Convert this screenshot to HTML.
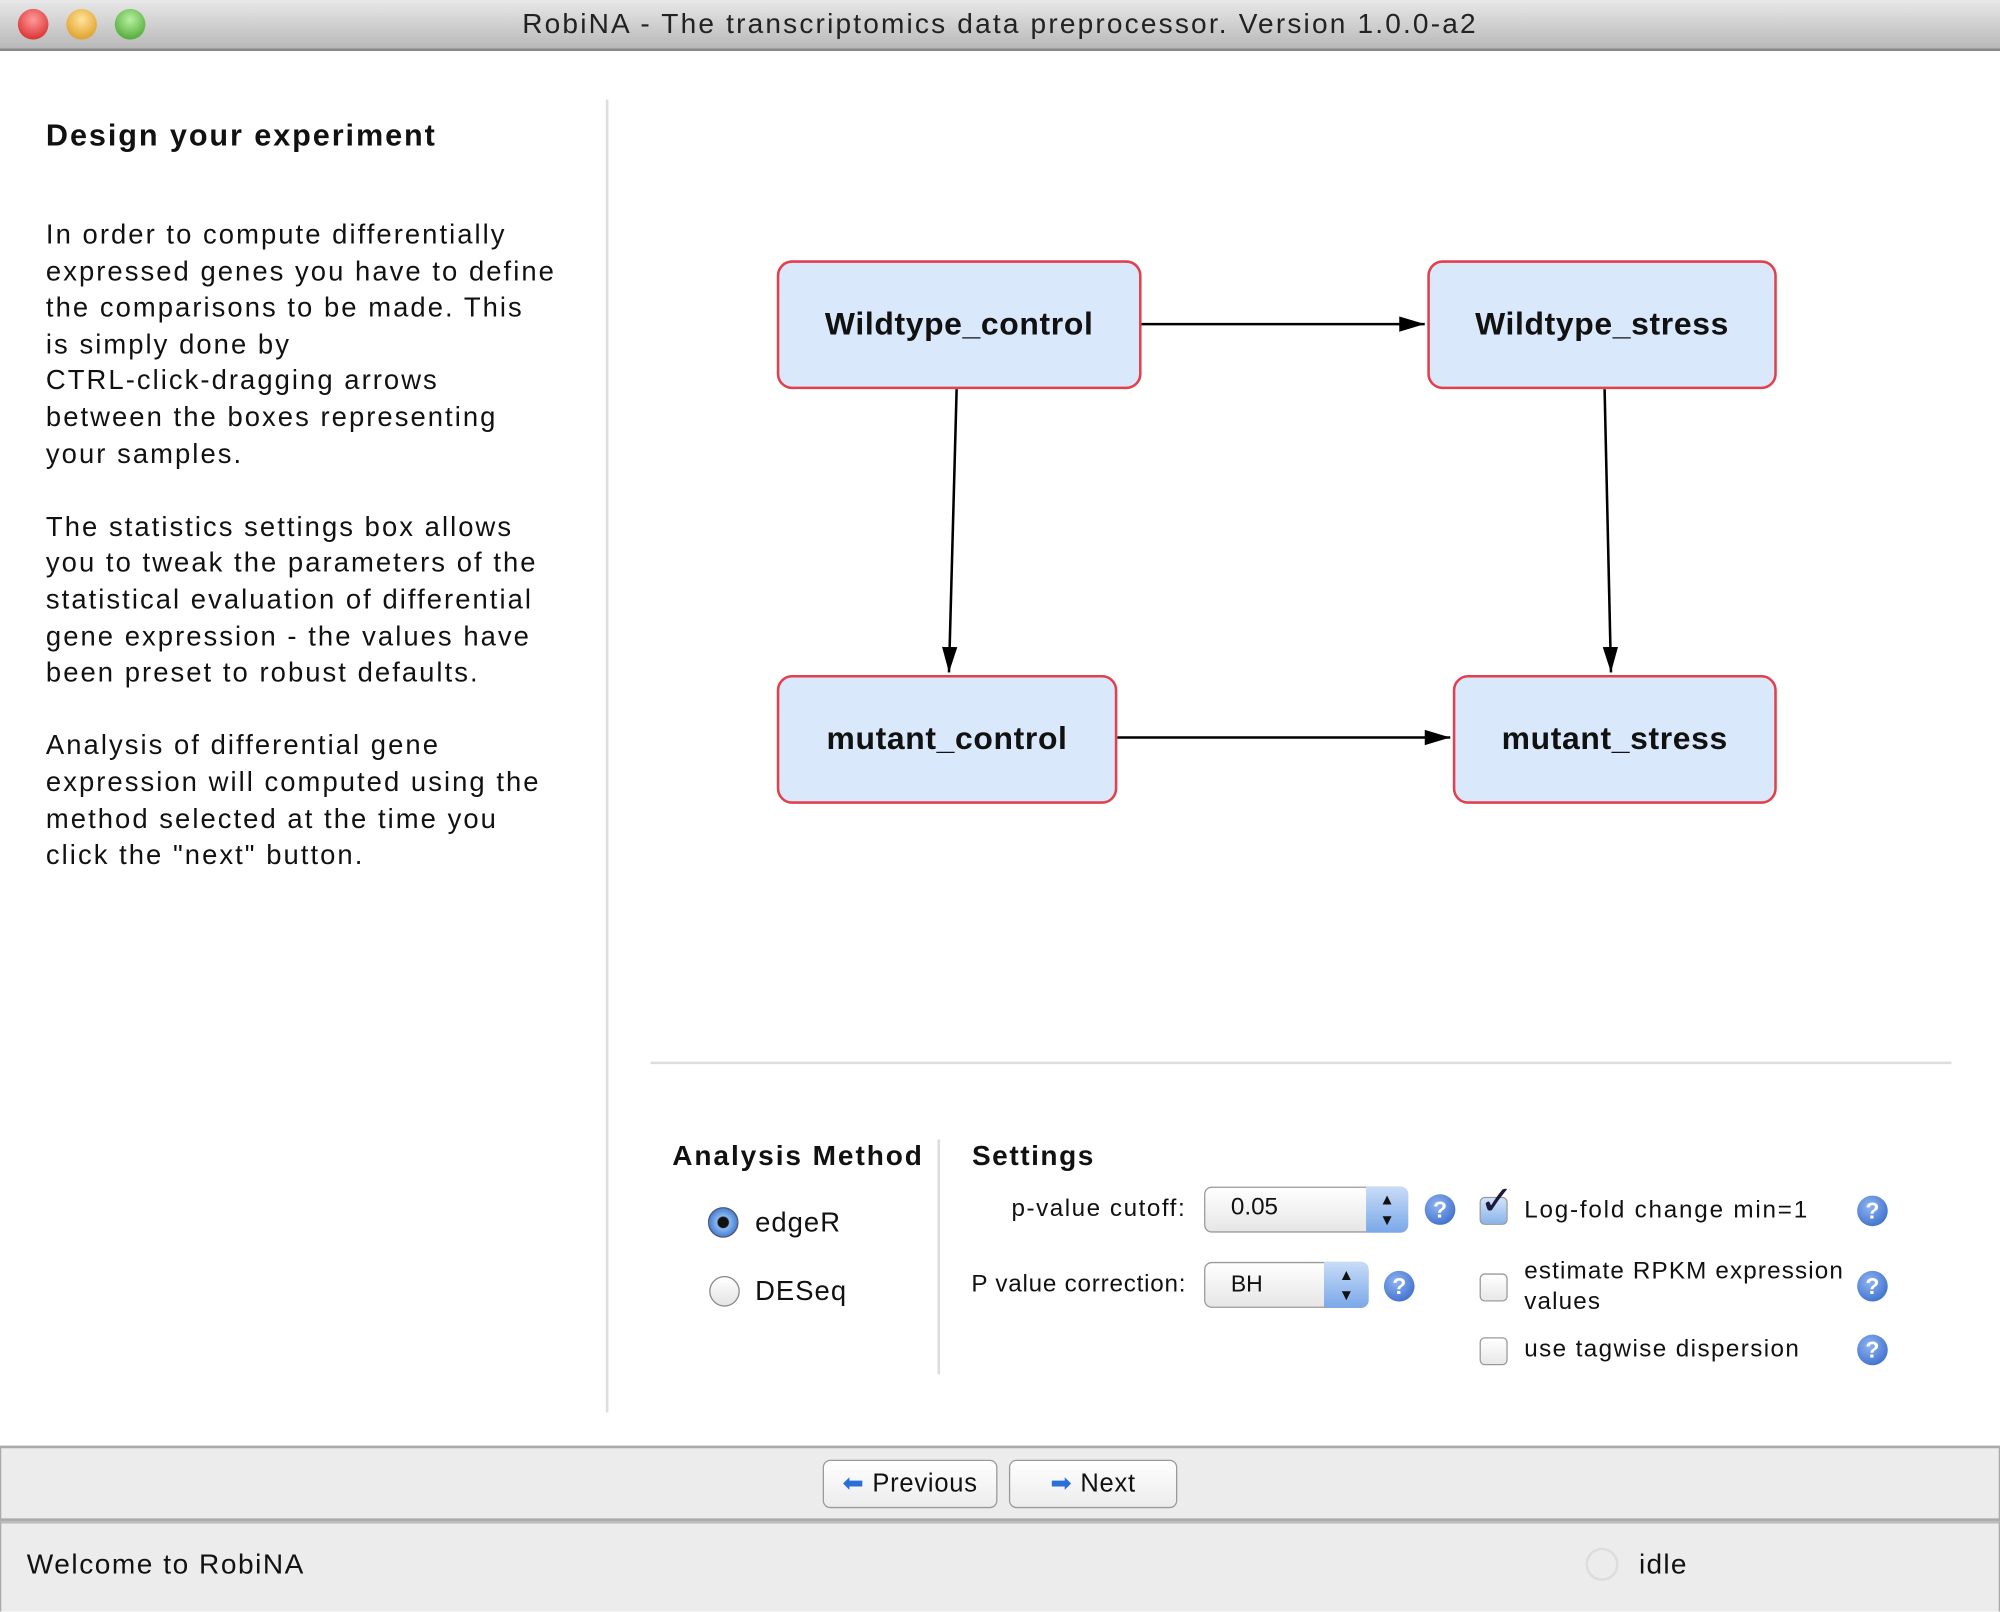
<!DOCTYPE html>
<html><head><meta charset="utf-8"><style>
html,body{margin:0;padding:0;width:2000px;height:1609px;overflow:hidden;background:#fff}
#s{position:absolute;left:0;top:0;width:1568px;height:1261px;transform:scale(1.27551,1.27597);transform-origin:0 0;font-family:"Liberation Sans","DejaVu Sans",sans-serif;color:#111}
.a{position:absolute;white-space:nowrap}
.t{font-size:21.5px;letter-spacing:1.6px}
.box{position:absolute;background:#d9e8fb;border:2px solid #e2404c;border-radius:12px;box-sizing:border-box;display:flex;align-items:center;justify-content:center;font-weight:bold;font-size:25px;letter-spacing:0.5px}
.q{position:absolute;width:24px;height:24px;border-radius:50%;background:radial-gradient(circle at 40% 35%,#8fb4f0,#2a5fc4);color:#fff;font-weight:bold;font-size:18px;text-align:center;line-height:24px}
.cb{position:absolute;width:22px;height:22px;border:1px solid #999;border-radius:4px;background:linear-gradient(#fff,#e8e8e8);box-sizing:border-box}
.btn{position:absolute;height:38px;border:1px solid #999;border-radius:6px;background:linear-gradient(#fff,#ececec);box-sizing:border-box;font-size:20px;line-height:36px;text-align:center;letter-spacing:0.6px}
.o{font-size:19px;letter-spacing:1.4px}
</style></head><body><div id="s">
<div class="a" style="left:0;top:0;width:1568px;height:38px;background:linear-gradient(#e8e8e8,#b8b8b8);border-bottom:2px solid #888"></div>
<div class="a" style="left:14px;top:7px;width:24px;height:24px;border-radius:50%;background:radial-gradient(circle at 50% 35%,#ff9a9a,#d01818)"></div>
<div class="a" style="left:52px;top:7px;width:24px;height:24px;border-radius:50%;background:radial-gradient(circle at 50% 35%,#ffe39a,#d89010)"></div>
<div class="a" style="left:90px;top:7px;width:24px;height:24px;border-radius:50%;background:radial-gradient(circle at 50% 35%,#b8f0a0,#3a9a20)"></div>
<div class="a" style="left:0;width:1568px;top:6px;text-align:center;font-size:22px;letter-spacing:1.7px;color:#222">RobiNA - The transcriptomics data preprocessor. Version 1.0.0-a2</div>

<div class="a" style="left:36px;top:93px;font-size:24px;font-weight:bold;letter-spacing:1.5px">Design your experiment</div>
<div class="a t" style="left:36px;top:170px;line-height:28.6px">In order to compute differentially<br>expressed genes you have to define<br>the comparisons to be made. This<br>is simply done by<br>CTRL-click-dragging arrows<br>between the boxes representing<br>your samples.<br><br>The statistics settings box allows<br>you to tweak the parameters of the<br>statistical evaluation of differential<br>gene expression - the values have<br>been preset to robust defaults.<br><br>Analysis of differential gene<br>expression will computed using the<br>method selected at the time you<br>click the "next" button.</div>
<div class="a" style="left:475px;top:78px;width:2px;height:1029px;background:#ddd"></div>

<svg class="a" style="left:0;top:0" width="1568" height="1261">
<defs><marker id="m" markerWidth="20" markerHeight="12" refX="20" refY="6" orient="auto" markerUnits="userSpaceOnUse"><path d="M0,0 L20,6 L0,12z" fill="#000"/></marker></defs>
<g stroke="#000" stroke-width="2" marker-end="url(#m)">
<line x1="895" y1="254" x2="1117" y2="254"/>
<line x1="750" y1="305" x2="744" y2="527"/>
<line x1="1258" y1="305" x2="1263" y2="527"/>
<line x1="876" y1="578" x2="1137" y2="578"/>
</g></svg>
<div class="box" style="left:609px;top:204px;width:286px;height:101px">Wildtype_control</div>
<div class="box" style="left:1119px;top:204px;width:274px;height:101px">Wildtype_stress</div>
<div class="box" style="left:609px;top:529px;width:267px;height:101px">mutant_control</div>
<div class="box" style="left:1139px;top:529px;width:254px;height:101px">mutant_stress</div>

<div class="a" style="left:510px;top:832px;width:1020px;height:2px;background:#ddd"></div>
<div class="a" style="left:527px;top:893px;font-size:22px;font-weight:bold;letter-spacing:1.5px">Analysis Method</div>
<div class="a" style="left:735px;top:893px;width:2px;height:184px;background:#ddd"></div>
<div class="a" style="left:762px;top:893px;font-size:22px;font-weight:bold;letter-spacing:1.2px">Settings</div>
<div class="a" style="left:555px;top:946px;width:24px;height:24px;border-radius:50%;border:1px solid #557;box-sizing:border-box;background:radial-gradient(circle,#111 0 4px,#8ab8f0 5px,#3d78d0 12px)"></div>
<div class="a t" style="left:592px;top:946px;letter-spacing:0.8px">edgeR</div>
<div class="a" style="left:556px;top:1000px;width:24px;height:24px;border-radius:50%;border:1px solid #888;box-sizing:border-box;background:linear-gradient(#fff,#e4e4e4)"></div>
<div class="a t" style="left:592px;top:1000px;letter-spacing:0.8px">DESeq</div>

<div class="a o" style="left:630px;width:300px;text-align:right;top:937px;letter-spacing:1.2px">p-value cutoff:</div>
<div class="a" style="left:944px;top:930px;width:160px;height:36px;border:1px solid #999;border-radius:6px;box-sizing:border-box;background:linear-gradient(#fff,#e6e6e6);font-size:19px;line-height:32px;padding-left:20px">0.05</div>
<div class="a" style="left:1071px;top:930px;width:33px;height:36px;border-radius:0 6px 6px 0;background:linear-gradient(#c8dcf8,#7aa8e8);font-size:12px;line-height:16px;text-align:center;padding-top:2px;box-sizing:border-box">▲<br>▼</div>
<div class="q" style="left:1117px;top:936px">?</div>
<div class="a o" style="left:630px;width:300px;text-align:right;top:996px;letter-spacing:0.6px">P value correction:</div>
<div class="a" style="left:944px;top:989px;width:129px;height:36px;border:1px solid #999;border-radius:6px;box-sizing:border-box;background:linear-gradient(#fff,#e6e6e6);font-size:18px;line-height:32px;padding-left:20px">BH</div>
<div class="a" style="left:1038px;top:989px;width:35px;height:36px;border-radius:0 6px 6px 0;background:linear-gradient(#c8dcf8,#7aa8e8);font-size:12px;line-height:16px;text-align:center;padding-top:2px;box-sizing:border-box">▲<br>▼</div>
<div class="q" style="left:1085px;top:996px">?</div>

<div class="cb" style="left:1160px;top:938px;background:linear-gradient(#d0e2fa,#8ab4ec)"></div>
<div class="a" style="left:1160px;top:922px;font-size:32px;font-weight:bold;color:#1a1a3a">✓</div>
<div class="a o" style="left:1195px;top:938px">Log-fold change min=1</div>
<div class="q" style="left:1456px;top:937px">?</div>
<div class="cb" style="left:1160px;top:998px"></div>
<div class="a o" style="left:1195px;top:985px;line-height:24px;letter-spacing:0.9px">estimate RPKM expression<br>values</div>
<div class="q" style="left:1456px;top:996px">?</div>
<div class="cb" style="left:1160px;top:1048px"></div>
<div class="a o" style="left:1195px;top:1047px;letter-spacing:1.1px">use tagwise dispersion</div>
<div class="q" style="left:1456px;top:1046px">?</div>

<div class="a" style="left:0;top:1133px;width:1566px;height:55px;background:#ececec;border:1px solid #aaa;border-width:2px 1px"></div>
<div class="btn" style="left:645px;top:1144px;width:137px"><span style="color:#2a6ed8">⬅</span> Previous</div>
<div class="btn" style="left:791px;top:1144px;width:132px"><span style="color:#2a6ed8">➡</span> Next</div>
<div class="a" style="left:0;top:1192px;width:1566px;height:69px;background:#ececec;border-top:2px solid #bbb;border-left:1px solid #aaa;border-right:1px solid #aaa"></div>
<div class="a" style="left:21px;top:1213px;font-size:22px;letter-spacing:1.2px">Welcome to RobiNA</div>
<div class="a" style="left:1243px;top:1213px;width:26px;height:26px;border-radius:50%;border:2px solid #ddd;box-sizing:border-box"></div>
<div class="a" style="left:1285px;top:1213px;font-size:22px;letter-spacing:1px">idle</div>
</div></body></html>
